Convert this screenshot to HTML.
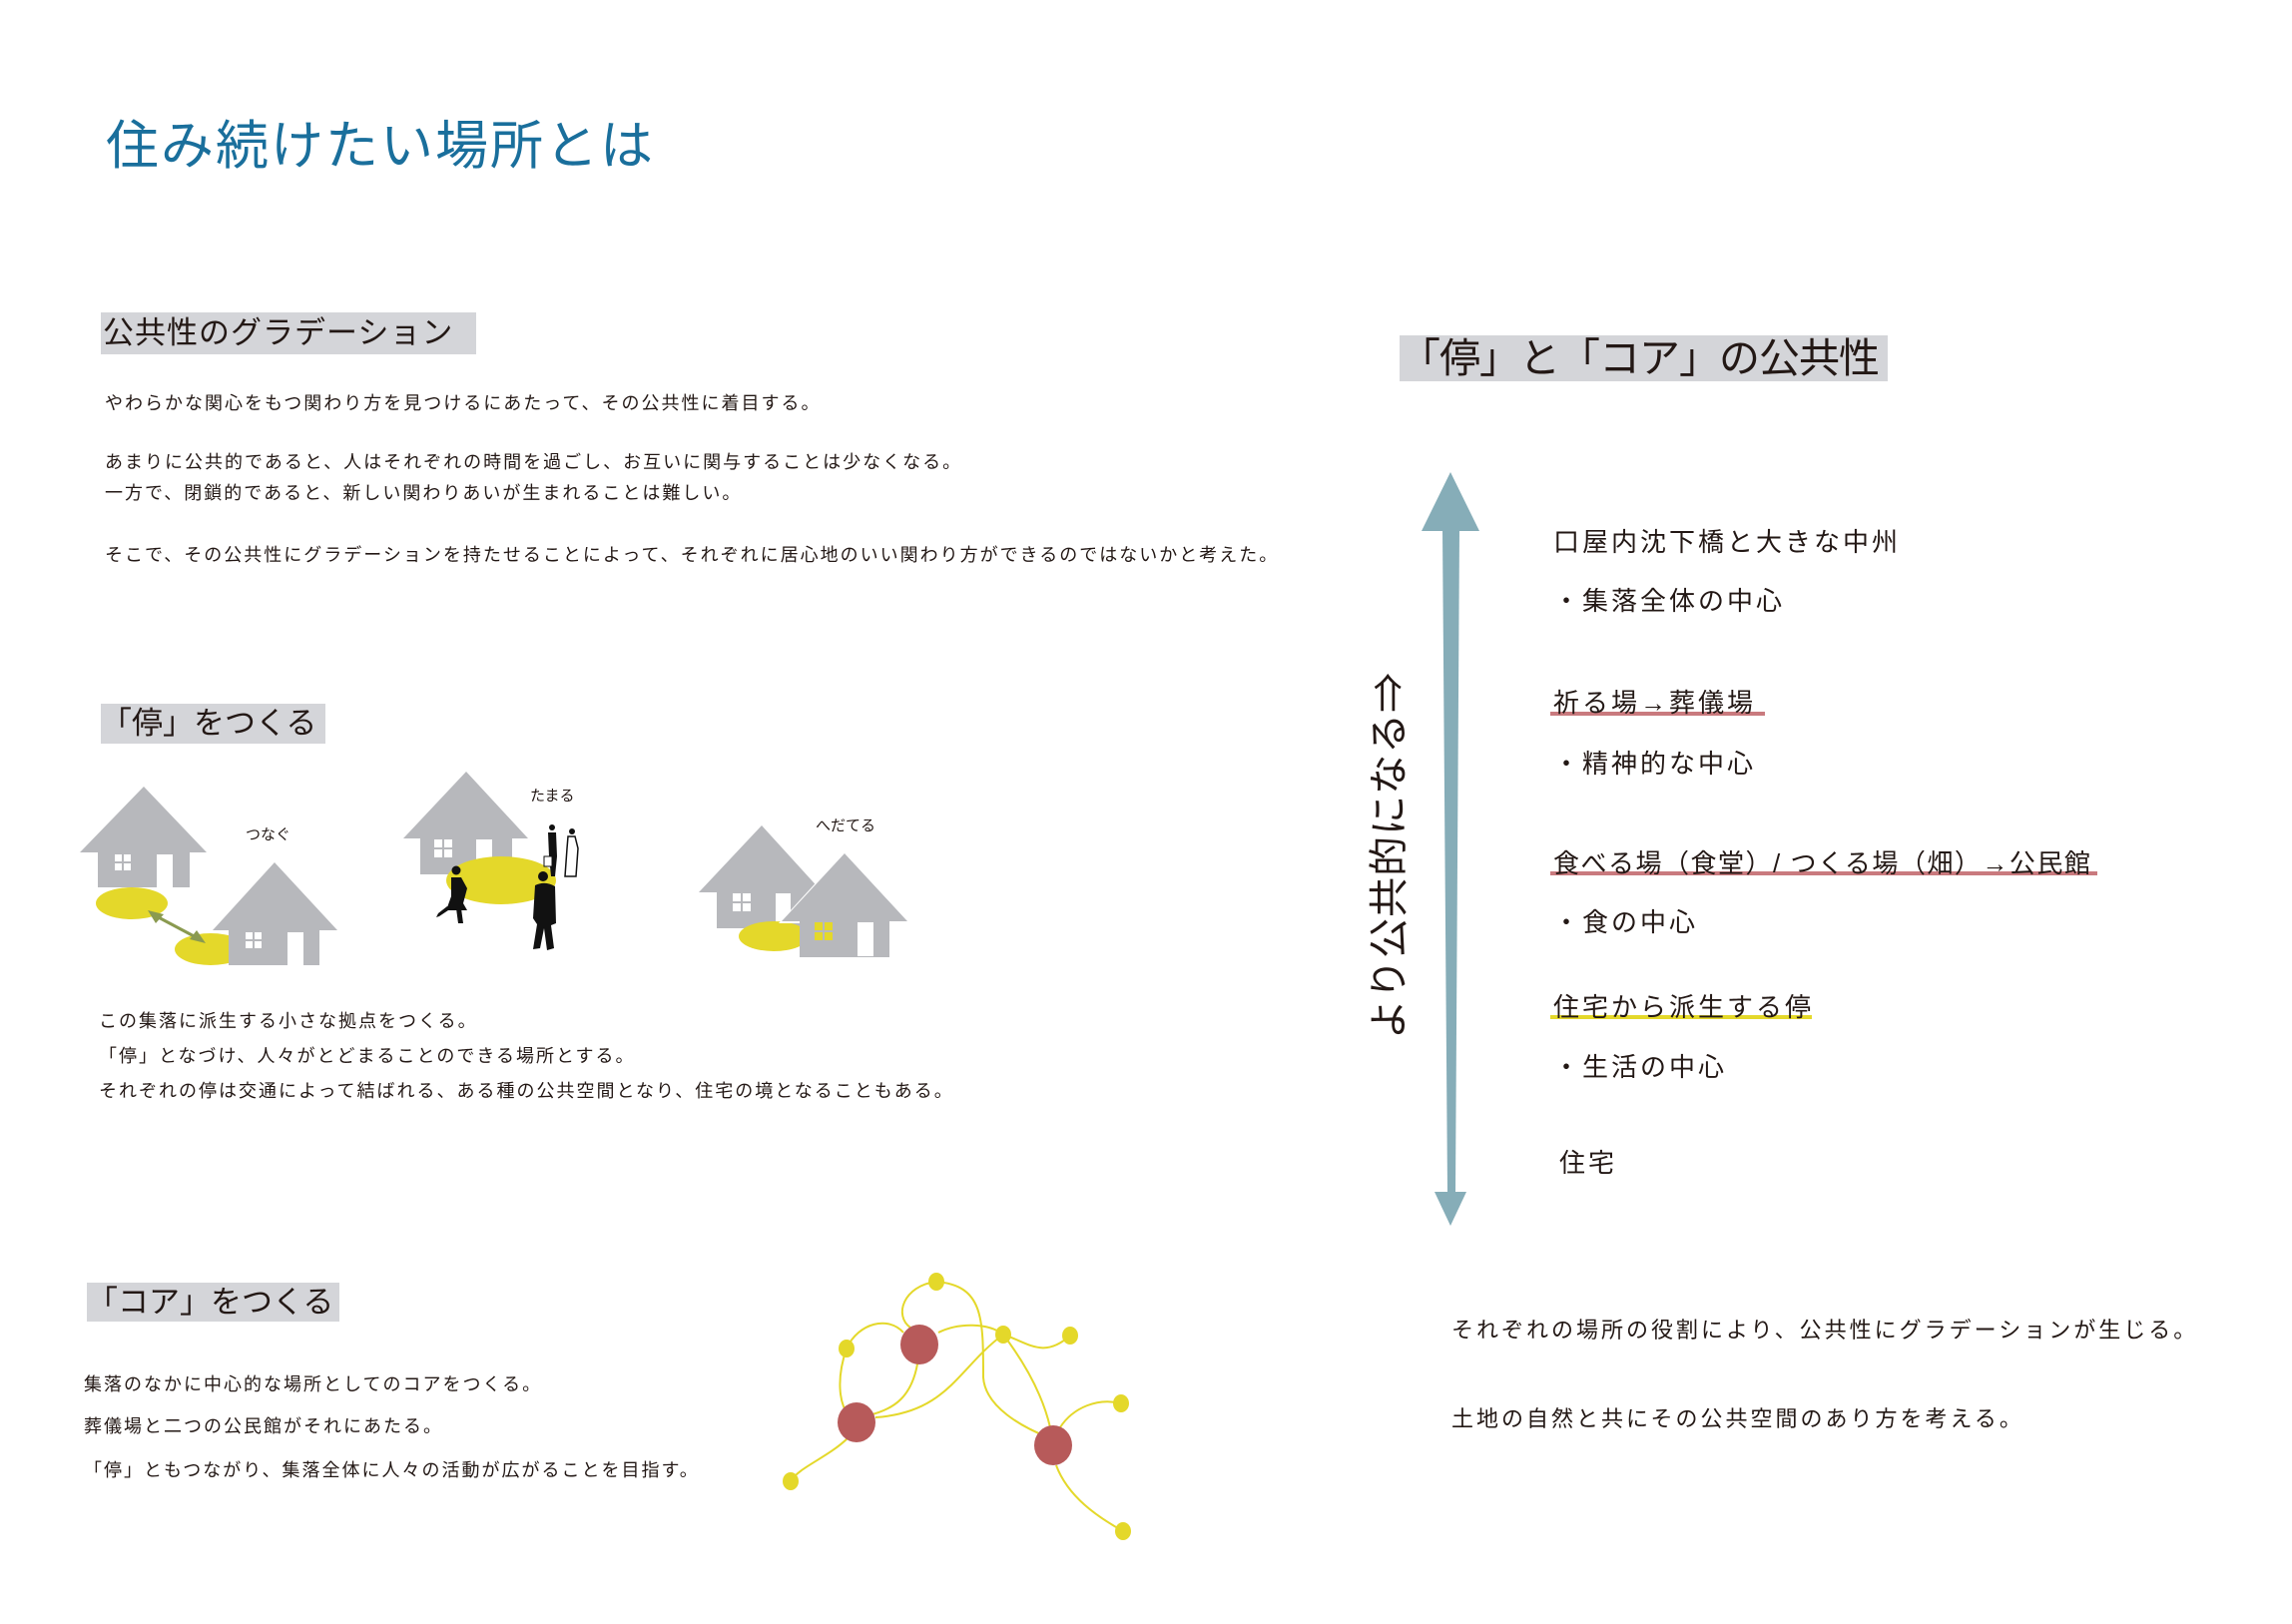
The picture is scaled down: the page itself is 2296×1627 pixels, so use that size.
<!DOCTYPE html>
<html><head><meta charset="utf-8"><style>
html,body{margin:0;padding:0;background:#fff;}
#p{position:relative;width:2296px;height:1627px;overflow:hidden;font-family:"Liberation Sans","Noto Sans CJK JP",sans-serif;color:#231815;}
.t{position:absolute;white-space:nowrap;}
.box{position:absolute;background:#d4d5d9;}
svg{position:absolute;left:0;top:0;}
.s18{font-size:18px;letter-spacing:2px;line-height:18px;}
.r{font-size:26px;letter-spacing:3.5px;line-height:26px;}
</style></head><body><div id="p">
<svg width="2296" height="1627" viewBox="0 0 2296 1627">
<polygon points="144,788 80,854 207,854" fill="#b7b8bc"/>
<rect x="98" y="853" width="92" height="36" fill="#b7b8bc"/>
<rect x="115" y="856" width="7" height="7" fill="#fff"/><rect x="124" y="856" width="7" height="7" fill="#fff"/>
<rect x="115" y="865" width="7" height="7" fill="#fff"/><rect x="124" y="865" width="7" height="7" fill="#fff"/>
<rect x="157" y="856" width="16" height="33" fill="#fff"/>
<ellipse cx="132" cy="905" rx="36" ry="16" fill="#e4d82a"/>
<ellipse cx="211" cy="951" rx="36" ry="16" fill="#e4d82a"/>
<polygon points="275,864 213,932 338,932" fill="#b7b8bc"/>
<rect x="229" y="931" width="91" height="36" fill="#b7b8bc"/>
<rect x="246" y="934" width="7" height="7" fill="#fff"/><rect x="255" y="934" width="7" height="7" fill="#fff"/>
<rect x="246" y="943" width="7" height="7" fill="#fff"/><rect x="255" y="943" width="7" height="7" fill="#fff"/>
<rect x="288" y="934" width="16" height="33" fill="#fff"/>
<line x1="153" y1="916" x2="200" y2="941" stroke="#8a9a50" stroke-width="3"/>
<polygon points="148,912 164,916 156,925" fill="#8a9a50"/>
<polygon points="206,945 190,941 197,932" fill="#8a9a50"/>
<polygon points="467,773 404,840 529,840" fill="#b7b8bc"/>
<rect x="421" y="839" width="92" height="37" fill="#b7b8bc"/>
<rect x="435" y="841" width="8" height="8" fill="#fff"/><rect x="445" y="841" width="8" height="8" fill="#fff"/>
<rect x="435" y="851" width="8" height="8" fill="#fff"/><rect x="445" y="851" width="8" height="8" fill="#fff"/>
<rect x="477" y="841" width="16" height="35" fill="#fff"/>
<ellipse cx="502" cy="882" rx="55" ry="24" fill="#e4d82a"/>
<g fill="#111">
<circle cx="544" cy="878" r="5"/>
<path d="M536,887 Q546,882 556,888 L557,925 L552,927 L555,950 L548,952 L545,930 L541,950 L534,951 L538,926 L534,920 Z"/>
<circle cx="457" cy="872" r="4.5"/>
<path d="M452,879 L462,879 L468,890 L464,905 L468,912 L447,912 L452,898 Z"/>
<path d="M452,910 L440,918 L437,919 L439,915 L448,908 Z"/>
<path d="M457,910 L459,925 L464,925 L462,910 Z"/>
<circle cx="553" cy="829" r="3"/>
<path d="M549,834 L557,834 L558,858 L556,878 L552,878 L550,858 Z"/>
<rect x="545" y="858" width="8" height="10" fill="#fff" stroke="#111" stroke-width="1"/>
<circle cx="573" cy="833" r="3"/>
<path d="M569,838 L576,838 L579,850 L577,878 L566,878 L568,850 Z" fill="#fff" stroke="#111" stroke-width="1.5"/>
</g>
<polygon points="763,827 700,894 824,894" fill="#b7b8bc"/>
<rect x="718" y="893" width="91" height="37" fill="#b7b8bc"/>
<rect x="734" y="895" width="8" height="8" fill="#fff"/><rect x="744" y="895" width="8" height="8" fill="#fff"/>
<rect x="734" y="905" width="8" height="8" fill="#fff"/><rect x="744" y="905" width="8" height="8" fill="#fff"/>
<rect x="777" y="895" width="15" height="35" fill="#fff"/>
<ellipse cx="775" cy="938" rx="35" ry="15" fill="#e4d82a"/>
<polygon points="846,853 780,925 912,925" fill="#fff"/>
<polygon points="846,855 783,923 909,923" fill="#b7b8bc"/>
<rect x="801" y="922" width="90" height="37" fill="#b7b8bc"/>
<rect x="816" y="924" width="8" height="8" fill="#e4d82a"/><rect x="826" y="924" width="8" height="8" fill="#e4d82a"/>
<rect x="816" y="934" width="8" height="8" fill="#e4d82a"/><rect x="826" y="934" width="8" height="8" fill="#e4d82a"/>
<rect x="859" y="924" width="16" height="34" fill="#fff"/>
<polygon points="1453,473 1424,532 1482,532" fill="#86adb8"/>
<polygon points="1445,530 1462,530 1458,1196 1450,1196" fill="#86adb8"/>
<polygon points="1437,1194 1469,1194 1453,1228" fill="#86adb8"/>
<rect x="1553" y="713" width="215" height="4" fill="#c97a7e"/>
<rect x="1553" y="873" width="548" height="4" fill="#c97a7e"/>
<rect x="1553" y="1017" width="262" height="4" fill="#e4d82a"/>
<g fill="none" stroke="#e4d82a" stroke-width="2">
<path d="M938,1284 C905,1288 895,1318 912,1330"/>
<path d="M938,1284 C985,1288 985,1320 985,1380 C987,1410 1025,1430 1050,1440"/>
<path d="M940,1335 C960,1325 990,1325 1005,1337"/>
<path d="M1005,1337 C1030,1345 1045,1362 1072,1338"/>
<path d="M1005,1337 C960,1370 950,1415 877,1420"/>
<path d="M1005,1337 C1030,1370 1045,1400 1052,1430"/>
<path d="M848,1351 C860,1325 890,1318 905,1335"/>
<path d="M848,1351 C838,1380 840,1405 850,1418"/>
<path d="M920,1360 C915,1400 895,1412 870,1418"/>
<path d="M850,1440 C830,1460 800,1470 792,1484"/>
<path d="M1062,1430 C1075,1410 1100,1400 1123,1406"/>
<path d="M1058,1468 C1070,1500 1100,1520 1125,1534"/>
</g>
<g fill="#e4d82a">
<ellipse cx="938" cy="1284" rx="8" ry="9"/><ellipse cx="848" cy="1351" rx="8" ry="9"/>
<ellipse cx="1005" cy="1337" rx="8" ry="9"/><ellipse cx="1072" cy="1338" rx="8" ry="9"/>
<ellipse cx="1123" cy="1406" rx="8" ry="9"/><ellipse cx="792" cy="1484" rx="8" ry="9"/>
<ellipse cx="1125" cy="1534" rx="8" ry="9"/>
</g>
<g fill="#b75a5a">
<ellipse cx="921" cy="1347" rx="19" ry="20"/><ellipse cx="858" cy="1425" rx="19" ry="20"/><ellipse cx="1055" cy="1448" rx="19" ry="20"/>
</g>
</svg>

<div class="t" style="left:106px;top:118px;font-size:53px;line-height:58px;letter-spacing:2px;color:#1a6f9c;">住み続けたい場所とは</div>

<div class="box" style="left:101px;top:313px;width:376px;height:42px;"></div>
<div class="t" style="left:103px;top:317px;font-size:31px;line-height:34px;letter-spacing:1px;">公共性のグラデーション</div>
<div class="t s18" style="left:105px;top:395px;">やわらかな関心をもつ関わり方を見つけるにあたって、その公共性に着目する。</div>
<div class="t s18" style="left:105px;top:454px;">あまりに公共的であると、人はそれぞれの時間を過ごし、お互いに関与することは少なくなる。</div>
<div class="t s18" style="left:105px;top:485px;">一方で、閉鎖的であると、新しい関わりあいが生まれることは難しい。</div>
<div class="t s18" style="left:105px;top:547px;">そこで、その公共性にグラデーションを持たせることによって、それぞれに居心地のいい関わり方ができるのではないかと考えた。</div>

<div class="box" style="left:101px;top:705px;width:225px;height:40px;"></div>
<div class="t" style="left:101px;top:708px;font-size:31px;line-height:34px;letter-spacing:0px;">「停」をつくる</div>
<div class="t" style="left:246px;top:825px;font-size:15px;">つなぐ</div>
<div class="t" style="left:531px;top:786px;font-size:15px;">たまる</div>
<div class="t" style="left:817px;top:816px;font-size:15px;">へだてる</div>
<div class="t s18" style="left:99px;top:1014px;">この集落に派生する小さな拠点をつくる。</div>
<div class="t s18" style="left:99px;top:1049px;">「停」となづけ、人々がとどまることのできる場所とする。</div>
<div class="t s18" style="left:99px;top:1084px;">それぞれの停は交通によって結ばれる、ある種の公共空間となり、住宅の境となることもある。</div>

<div class="box" style="left:87px;top:1285px;width:253px;height:39px;"></div>
<div class="t" style="left:87px;top:1288px;font-size:31px;line-height:34px;letter-spacing:0px;">「コア」をつくる</div>
<div class="t s18" style="left:84px;top:1378px;">集落のなかに中心的な場所としてのコアをつくる。</div>
<div class="t s18" style="left:84px;top:1420px;">葬儀場と二つの公民館がそれにあたる。</div>
<div class="t s18" style="left:84px;top:1464px;">「停」ともつながり、集落全体に人々の活動が広がることを目指す。</div>

<div class="box" style="left:1402px;top:336px;width:489px;height:46px;"></div>
<div class="t" style="left:1402px;top:337px;font-size:41px;line-height:44px;letter-spacing:-1px;">「停」と「コア」の公共性</div>

<div class="t" style="left:1392px;top:857px;font-size:40px;line-height:40px;letter-spacing:1px;transform:translate(-50%,-50%) rotate(-90deg);">より公共的になる⇒</div>

<div class="t r" style="left:1556px;top:530px;letter-spacing:3px;">口屋内沈下橋と大きな中州</div>
<div class="t r" style="left:1556px;top:589px;letter-spacing:3px;">・集落全体の中心</div>
<div class="t r" style="left:1556px;top:691px;letter-spacing:3px;">祈る場→葬儀場</div>
<div class="t r" style="left:1556px;top:752px;letter-spacing:3px;">・精神的な中心</div>
<div class="t r" style="left:1556px;top:852px;letter-spacing:1.5px;">食べる場（食堂）/ つくる場（畑）→公民館</div>
<div class="t r" style="left:1556px;top:911px;letter-spacing:3px;">・食の中心</div>
<div class="t r" style="left:1556px;top:996px;letter-spacing:3px;">住宅から派生する停</div>
<div class="t r" style="left:1556px;top:1056px;letter-spacing:3px;">・生活の中心</div>
<div class="t r" style="left:1562px;top:1152px;letter-spacing:3px;">住宅</div>

<div class="t" style="left:1454px;top:1322px;font-size:22px;line-height:22px;letter-spacing:3px;">それぞれの場所の役割により、公共性にグラデーションが生じる。</div>
<div class="t" style="left:1454px;top:1411px;font-size:22px;line-height:22px;letter-spacing:3px;">土地の自然と共にその公共空間のあり方を考える。</div>
</div></body></html>
